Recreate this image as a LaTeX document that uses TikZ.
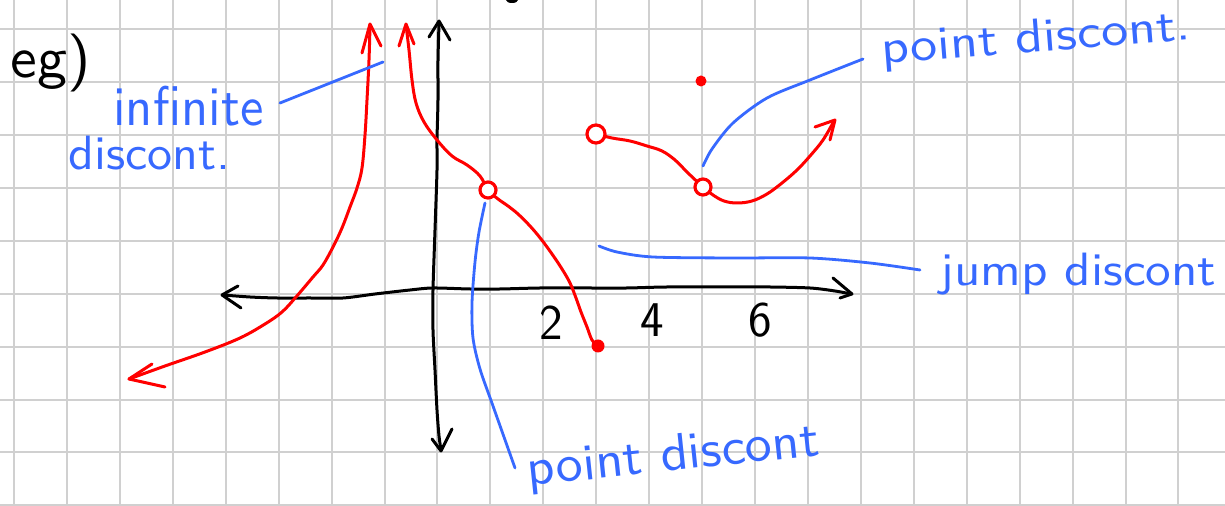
\documentclass[tikz,border=0pt]{standalone}
\usepackage{fontspec}
\usepackage{graphicx}
\definecolor{gridc}{RGB}{208,208,208}
\definecolor{pred}{RGB}{255,0,0}
\definecolor{pblue}{RGB}{55,105,255}
\tikzset{
 gridline/.style={gridc, line width=1pt},
 redpen/.style={pred, line width=1.5pt, line cap=round, line join=round},
 bluepen/.style={pblue, line width=1.4pt, line cap=round, line join=round},
 blackpen/.style={black, line width=1.5pt, line cap=round, line join=round},
 hole/.style={circle, draw=pred, line width=1.6pt, minimum size=8pt, inner sep=0pt, fill=white},
 reddot/.style={circle, fill=pred, inner sep=0pt},
 note/.style={pblue, inner sep=0pt, anchor=base west, font=\sffamily},
 num/.style={black, inner sep=0pt, anchor=base, font=\sffamily\fontsize{25}{25}\selectfont},
}
\begin{document}
\begin{tikzpicture}[x=0.5pt,y=-0.5pt]
\useasboundingbox (0,0) rectangle (1225,506);
\fill[white] (0,0) rectangle (1225,506);
% grid
\foreach \i in {0,...,22} \draw[gridline] ({14+52.93*\i},0) -- ({14+52.93*\i},506);
\foreach \j in {0,...,9} \draw[gridline] (0,{29.3+52.9*\j}) -- (1225,{29.3+52.9*\j});
% partial black mark at top
\fill[black] (512,0) ellipse [x radius=6, y radius=3];
% eg)
\node[inner sep=0pt, anchor=base west] (eg) at (10,78) {\resizebox*{40pt}{29pt}{\sffamily eg)}};
% axes
\draw[blackpen] plot[smooth] coordinates {(223,295) (250,297) (277,298) (310,298) (343,298) (375,294) (410,290) (433,288) (470,289) (500,289) (540,288) (587,288) (627,288) (667,287) (733,287) (770,287) (810,288) (835,291) (851,294)};
\draw[blackpen] (238,286) -- (222,295) -- (241,308);
\draw[blackpen] (833,278) -- (852,294) -- (840,298);
\draw[blackpen] plot[smooth] coordinates {(439,24) (438,60) (438,100) (437,140) (437,170) (435,230) (433,290) (433,330) (435,370) (437,410) (439,436) (441,450)};
\draw[blackpen] (429,37) -- (439,21) -- (450,40);
\draw[blackpen] (432,439) -- (441,451) -- (452,429);
\node[num] (n2) at (551,340) {2};
\node[num] (n4) at (652,337) {4};
\node[num] (n6) at (760,337) {6};
% red curves
\draw[redpen] plot[smooth, tension=0.6] coordinates {(129,379) (165,366) (205,352) (240,338) (265,324) (282,312) (296,297) (313,277) (323,265) (333,247) (342,228) (350,207) (357,188) (362,168) (365,135) (367,100) (369,60) (370,25)};
\draw[redpen] (362,53) -- (370,24) -- (381,46);
\draw[redpen] (152,364) -- (129,379) -- (165,387);
\draw[redpen] plot[smooth, tension=0.6] coordinates {(406,25) (409,50) (412,80) (416,103) (424,122) (437,140) (452,156) (467,165) (480,176) (488,190) (498,199) (508,206) (518,214) (530,226) (541,239) (552,254) (562,269) (570,283) (576,298) (581,312) (587,327) (592,340) (598,346)};
\draw[redpen] (399,46) -- (406,24) -- (414,44);
\draw[redpen] plot[smooth, tension=0.6] coordinates {(596,134) (612,138) (630,141) (647,146) (662,151) (675,160) (688,173) (703,187) (713,195) (724,201) (737,203) (752,201) (767,194) (782,183) (797,170) (810,156) (823,140) (834,121)};
\draw[redpen] (815,127) -- (835,120) -- (830,140);
\node[hole] (holeA) at (488,190) {};
\node[hole] (holeB) at (703,187) {};
\node[hole, minimum size=9pt] (openC) at (596,134) {};
\node[reddot, minimum size=6.5pt] (dotA) at (598,346) {};
\node[reddot, minimum size=5.5pt] (dotB) at (701,81) {};
% labels
\node[note] (infA) at (113,126) {\resizebox*{75pt}{20pt}{infinite}};
\node[note] (infB) at (68,170) {\resizebox*{81pt}{17pt}{discont.}};
\node[note, rotate=4.5] (ptA) at (882,64) {\resizebox*{155pt}{21pt}{point discont.}};
\node[note] (jump) at (940,286) {\resizebox*{138pt}{21pt}{jump discont}};
\node[note, rotate=6] (ptB) at (528,486) {\resizebox*{147pt}{23pt}{point discont}};
% connector ends
\coordinate (cInfS) at (280,103);
\coordinate (cInfE) at (383,62);
\coordinate (cPtAS) at (703,166);
\coordinate (cPtAE) at (863,59);
\coordinate (cJS) at (599,246);
\coordinate (cJE) at (920,270);
\coordinate (cPtBS) at (485,203);
\coordinate (cPtBE) at (515,468);
\draw[bluepen] (cInfS) -- (cInfE);
\draw[bluepen] plot[smooth] coordinates {(cPtAS) (712,149) (733,123) (767,98) (810,80) (cPtAE)};
\draw[bluepen] plot[smooth] coordinates {(cJS) (617,252) (653,257) (733,258) (810,258) (870,263) (cJE)};
\draw[bluepen] plot[smooth] coordinates {(cPtBS) (479,232) (475,262) (472,303) (473,338) (480,369) (493,406) (cPtBE)};
\end{tikzpicture}
\end{document}
